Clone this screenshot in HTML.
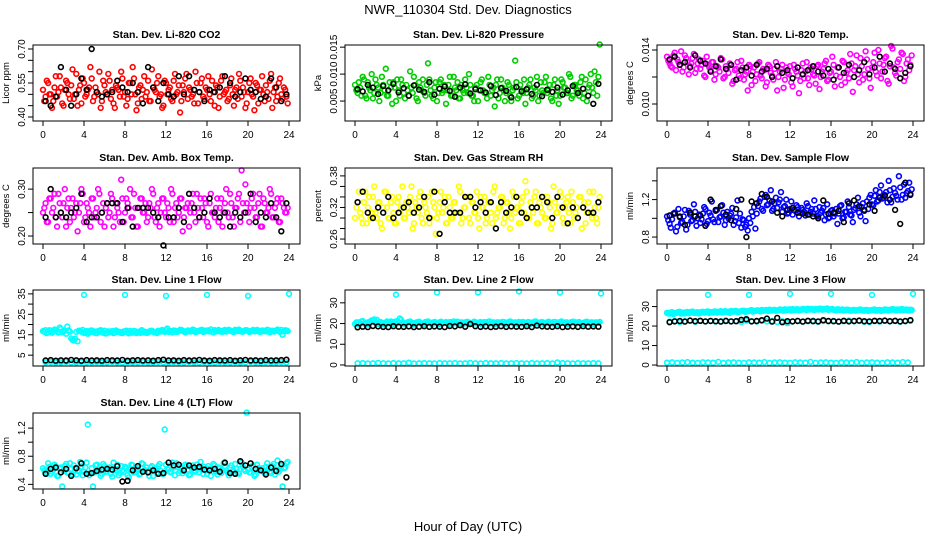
<!DOCTYPE html>
<html><head><meta charset="utf-8"><style>
html,body{margin:0;padding:0;background:#fff;}
svg{display:block;font-family:"Liberation Sans",Arial,sans-serif;}
</style></head><body>
<svg id="chart" width="936" height="540" viewBox="0 0 936 540" xmlns="http://www.w3.org/2000/svg">
<text x="468" y="14" text-anchor="middle" font-size="13">NWR_110304  Std. Dev. Diagnostics</text>
<text x="468" y="531" text-anchor="middle" font-size="13">Hour of Day (UTC)</text>
</svg>
<script>
const xTicks=[0,4,8,12,16,20,24];
const co2=[0.47,0.56,0.50,0.44,0.53,0.49,0.58,0.46,0.52,0.55,0.48,0.61,0.50,0.45,0.54,0.57,0.49,0.52,0.62,0.47,0.53,0.50,0.44,0.56,0.51,0.59,0.48,0.46,0.54,0.52,0.60,0.49,0.45,0.55,0.50,0.57,0.43,0.53,0.48,0.58,0.51,0.47,0.61,0.52,0.55,0.49,0.44,0.56,0.50,0.53,0.47,0.59,0.51,0.42,0.54,0.57,0.48,0.52,0.50,0.60,0.46,0.55,0.49,0.53,0.58,0.47,0.51,0.54,0.44,0.56,0.50,0.52,0.48,0.57,0.45,0.53,0.59,0.49,0.51,0.46,0.55,0.50,0.43,0.54,0.52,0.58,0.47,0.51,0.56,0.44,0.53,0.49,0.57,0.48,0.52,0.46];
const co2B=[0.52,0.49,0.55,0.50,0.47,0.58,0.51,0.53,0.45,0.56,0.50,0.54,0.48,0.59,0.52,0.46,0.55,0.50,0.53,0.57,0.49,0.51,0.60,0.47,0.54,0.50,0.56,0.52,0.44,0.53,0.49,0.57,0.51,0.48,0.55,0.62,0.50,0.46,0.54,0.52,0.49,0.56,0.47,0.53,0.51,0.58,0.50,0.45,0.55,0.52,0.48,0.56,0.50,0.54,0.47,0.51,0.59,0.53,0.49,0.46,0.55,0.51,0.57,0.48,0.52,0.50,0.56,0.45,0.53,0.49,0.58,0.51,0.47,0.54,0.50,0.52,0.48,0.56,0.53,0.44,0.51,0.57,0.49,0.55,0.46,0.52,0.50,0.54,0.48,0.59,0.51,0.47,0.55,0.50,0.53,0.49];
const co2Black=[0.47,0.45,0.49,0.62,0.52,0.45,0.50,0.57,0.52,0.70,0.51,0.49,0.50,0.51,0.56,0.53,0.51,0.55,0.51,0.46,0.62,0.53,0.47,0.55,0.50,0.49,0.58,0.50,0.58,0.52,0.51,0.47,0.52,0.51,0.53,0.58,0.55,0.49,0.51,0.57,0.52,0.51,0.48,0.49,0.57,0.53,0.47,0.50];
const pres=[.0070,.0085,.0060,.0090,.0055,.0075,.0100,.0065,.0080,.0050,.0095,.0070,.0060,.0085,.0045,.0075,.0090,.0060,.0080,.0055,.0070,.0105,.0065,.0080,.0050,.0075,.0090,.0060,.0120,.0070,.0055,.0085,.0065,.0090,.0070,.0045,.0080,.0060,.0095,.0070,.0055,.0080,.0065,.0075,.0100,.0060,.0050,.0080,.0070,.0090,.0065,.0055,.0080,.0070,.0040,.0090,.0065,.0075,.0050,.0085,.0060,.0070,.0125,.0055,.0080,.0065,.0045,.0075,.0090,.0060,.0070,.0050,.0085,.0065,.0095,.0070,.0055,.0080,.0060,.0045,.0090,.0075,.0065,.0100,.0055,.0080,.0070,.0060,.0095,.0065,.0050,.0080,.0075,.0105,.0060,.0155];
const presB=[.0080,.0065,.0075,.0095,.0060,.0085,.0070,.0055,.0090,.0075,.0065,.0080,.0110,.0060,.0075,.0085,.0050,.0070,.0090,.0065,.0080,.0060,.0075,.0095,.0055,.0085,.0070,.0065,.0080,.0090,.0060,.0075,.0050,.0085,.0065,.0080,.0070,.0095,.0060,.0075,.0085,.0055,.0070,.0090,.0065,.0080,.0060,.0075,.0050,.0085,.0070,.0065,.0095,.0060,.0075,.0080,.0055,.0090,.0070,.0065,.0080,.0050,.0075,.0085,.0060,.0070,.0090,.0065,.0080,.0055,.0075,.0095,.0060,.0070,.0085,.0065,.0080,.0050,.0090,.0070,.0060,.0085,.0075,.0065,.0095,.0060,.0080,.0070,.0085,.0055,.0090,.0075,.0100,.0065,.0085,.0095];
const presBlack=[.0072,.0068,.0080,.0075,.0063,.0078,.0070,.0082,.0066,.0074,.0060,.0079,.0071,.0067,.0085,.0062,.0073,.0077,.0069,.0058,.0075,.0081,.0064,.0072,.0070,.0066,.0078,.0061,.0074,.0069,.0057,.0076,.0068,.0072,.0063,.0080,.0059,.0071,.0067,.0075,.0062,.0070,.0078,.0065,.0073,.0060,.0045,.0082];
const temp=[.0132,.0128,.0136,.0125,.0131,.0139,.0127,.0134,.0122,.0130,.0137,.0126,.0133,.0129,.0121,.0135,.0127,.0131,.0118,.0128,.0124,.0133,.0120,.0126,.0130,.0115,.0125,.0131,.0119,.0127,.0122,.0110,.0128,.0124,.0117,.0130,.0121,.0126,.0113,.0129,.0123,.0118,.0131,.0120,.0126,.0112,.0127,.0122,.0116,.0129,.0124,.0108,.0125,.0119,.0131,.0114,.0126,.0121,.0128,.0111,.0124,.0130,.0117,.0123,.0135,.0113,.0127,.0120,.0132,.0116,.0125,.0137,.0109,.0128,.0122,.0134,.0118,.0139,.0126,.0112,.0131,.0124,.0140,.0119,.0129,.0135,.0115,.0143,.0127,.0121,.0133,.0138,.0117,.0130,.0125,.0136];
const tempB=[.0135,.0130,.0127,.0138,.0133,.0129,.0124,.0136,.0131,.0128,.0134,.0123,.0130,.0126,.0132,.0120,.0129,.0125,.0131,.0122,.0127,.0134,.0119,.0128,.0123,.0129,.0117,.0126,.0121,.0132,.0118,.0124,.0129,.0114,.0127,.0122,.0131,.0119,.0125,.0116,.0128,.0121,.0126,.0110,.0124,.0129,.0118,.0123,.0128,.0113,.0126,.0121,.0117,.0130,.0124,.0119,.0127,.0122,.0115,.0129,.0120,.0126,.0132,.0118,.0124,.0129,.0121,.0127,.0114,.0131,.0123,.0119,.0130,.0125,.0136,.0116,.0128,.0122,.0133,.0119,.0127,.0138,.0121,.0130,.0124,.0134,.0117,.0128,.0141,.0123,.0131,.0126,.0137,.0120,.0133,.0129];
const tempBlack=[.0133,.0135,.0129,.0131,.0127,.0136,.0132,.0130,.0124,.0128,.0133,.0126,.0129,.0118,.0125,.0127,.0121,.0129,.0124,.0126,.0120,.0128,.0123,.0125,.0119,.0127,.0122,.0125,.0128,.0124,.0121,.0126,.0118,.0127,.0123,.0129,.0120,.0125,.0131,.0122,.0127,.0135,.0124,.0130,.0126,.0119,.0123,.0128];
const amb=[.26,.23,.28,.25,.29,.22,.27,.24,.30,.26,.23,.28,.25,.21,.27,.29,.24,.26,.22,.28,.25,.30,.23,.27,.26,.24,.29,.22,.27,.25,.32,.23,.28,.26,.24,.29,.22,.26,.28,.25,.23,.27,.30,.24,.26,.22,.28,.25,.27,.23,.29,.26,.24,.28,.21,.26,.27,.25,.29,.23,.26,.28,.24,.27,.22,.29,.25,.26,.23,.28,.25,.30,.24,.27,.22,.26,.29,.34,.25,.27,.23,.28,.26,.24,.29,.22,.27,.25,.30,.24,.26,.28,.23,.27,.25,.26];
const ambB=[.25,.27,.23,.28,.26,.24,.29,.25,.27,.22,.28,.26,.24,.27,.25,.30,.23,.27,.25,.28,.24,.26,.29,.25,.22,.27,.25,.28,.24,.26,.23,.28,.25,.27,.30,.24,.26,.22,.28,.25,.27,.24,.26,.29,.23,.27,.25,.28,.24,.26,.30,.23,.27,.25,.28,.24,.26,.22,.27,.25,.29,.24,.26,.28,.23,.27,.25,.24,.28,.26,.22,.27,.25,.29,.24,.26,.28,.23,.27,.31,.25,.26,.29,.24,.27,.22,.28,.25,.26,.29,.24,.27,.23,.28,.26,.25];
const ambBlack=[.24,.30,.24,.25,.24,.25,.26,.29,.23,.24,.24,.25,.27,.27,.27,.23,.26,.22,.26,.26,.26,.25,.24,.18,.24,.24,.26,.23,.29,.26,.24,.25,.28,.25,.24,.25,.22,.25,.24,.25,.29,.23,.25,.24,.27,.24,.21,.27];
const rh=[.32,.35,.30,.33,.29,.34,.31,.36,.30,.33,.28,.35,.32,.30,.34,.29,.33,.31,.36,.30,.32,.34,.28,.33,.31,.35,.29,.32,.34,.30,.33,.27,.31,.35,.32,.29,.34,.30,.33,.31,.36,.29,.32,.34,.30,.33,.31,.35,.28,.32,.34,.30,.33,.29,.36,.31,.32,.34,.30,.33,.28,.35,.31,.32,.29,.34,.37,.30,.33,.31,.35,.29,.32,.34,.30,.33,.28,.36,.31,.32,.34,.29,.33,.31,.35,.30,.32,.34,.28,.33,.31,.35,.30,.32,.29,.34];
const rhB=[.30,.33,.31,.29,.35,.32,.30,.34,.31,.33,.29,.32,.35,.30,.33,.31,.29,.34,.32,.30,.33,.31,.36,.29,.32,.34,.30,.33,.31,.29,.35,.32,.30,.33,.31,.34,.29,.32,.30,.33,.31,.35,.30,.32,.34,.29,.33,.31,.30,.34,.32,.29,.33,.31,.35,.30,.32,.34,.29,.33,.31,.30,.34,.32,.29,.33,.31,.35,.30,.32,.34,.29,.33,.31,.30,.34,.32,.29,.33,.31,.35,.30,.32,.34,.29,.33,.31,.30,.34,.32,.29,.33,.31,.35,.30,.32];
const rhBlack=[.33,.35,.31,.30,.32,.31,.34,.30,.31,.32,.33,.31,.32,.34,.30,.35,.27,.33,.31,.31,.31,.34,.34,.32,.33,.31,.33,.28,.33,.31,.32,.34,.31,.30,.32,.32,.34,.33,.30,.34,.32,.29,.32,.30,.32,.31,.31,.33];
const sample=[.98,.90,1.05,.86,1.10,.95,1.02,.88,1.08,.97,1.15,.92,1.04,.99,1.12,.94,1.06,1.18,.96,1.09,1.01,1.14,.93,1.07,1.03,1.11,.97,1.19,1.05,.99,.91,.87,.95,1.02,.89,1.13,1.21,1.08,1.25,1.15,1.30,1.10,1.22,1.17,1.28,1.12,1.20,1.06,1.18,1.09,1.14,1.02,1.11,1.07,1.16,1.04,1.10,1.19,1.03,1.12,1.08,.98,1.15,1.01,1.09,1.05,.94,1.13,1.00,1.07,1.18,1.04,.96,1.11,1.22,1.02,1.16,.97,1.10,1.25,1.14,1.30,1.19,1.35,1.22,1.28,1.40,1.17,1.32,1.24,1.45,1.20,1.36,1.27,1.38,1.31];
const sampleB=[1.02,.94,.99,1.06,.91,1.01,.96,1.09,.93,1.04,.98,1.07,1.00,.95,1.05,1.10,.97,1.03,.99,1.08,.96,1.02,1.06,.98,1.00,1.05,.93,1.01,.95,.90,.98,.93,1.00,1.07,1.12,1.05,1.18,1.10,1.23,1.14,1.19,1.08,1.16,1.11,1.20,1.07,1.13,1.05,1.10,1.04,1.08,1.12,1.06,1.09,1.03,1.13,1.07,1.05,1.10,1.02,1.06,1.11,1.04,1.00,1.08,1.02,1.10,1.05,1.14,1.01,1.07,1.12,1.03,1.09,1.15,1.06,1.12,1.08,1.18,1.22,1.15,1.24,1.18,1.28,1.21,1.25,1.17,1.30,1.23,1.27,1.20,1.33,1.25,1.22,1.29,1.26];
const sampleBlack=[1.03,1.05,1.02,.93,1.06,1.02,1.03,.92,1.20,1.09,1.13,1.04,.98,1.10,1.20,.80,1.18,1.16,1.26,1.23,1.18,1.06,1.02,1.09,1.11,1.06,1.05,1.04,1.02,1.00,1.19,1.05,1.06,1.08,.96,1.16,1.19,1.13,1.09,1.15,1.08,1.22,1.24,1.20,1.09,.94,1.38,1.25];
const line1=[16.5,15.8,17.2,16.0,17.5,16.8,18.5,16.2,17.0,19.0,16.5,12.5,13.0,11.8,16.9,17.3,16.1,15.5,17.0,16.4,15.9,16.8,17.2,16.0,15.6,16.7,16.2,15.8,17.1,16.4,15.9,16.6,17.0,15.7,16.3,16.9,15.8,16.5,17.2,16.1,15.9,16.6,17.0,16.2,15.8,16.7,17.3,16.4,18.0,16.8,16.1,17.0,16.5,17.4,16.9,16.2,17.1,16.6,17.5,16.3,16.9,17.2,16.4,17.0,16.7,17.6,16.2,16.9,17.3,16.5,17.1,16.6,17.4,16.8,16.3,17.0,17.5,16.6,16.9,17.2,16.4,17.0,16.7,17.3,16.5,17.1,16.8,17.4,16.2,17.0,16.9,17.5,16.4,15.0,17.2,16.8];
const line1B=[16.8,17.2,16.3,17.0,16.6,17.4,16.1,17.8,16.7,15.5,17.1,13.2,12.2,16.4,17.0,16.5,15.9,16.8,16.2,17.1,16.6,15.8,16.9,16.3,17.0,15.9,16.5,16.8,16.1,16.7,16.3,15.8,16.6,16.2,16.9,16.0,16.7,16.3,15.9,16.8,16.4,16.1,16.9,16.5,16.2,17.0,16.6,16.9,17.2,16.4,16.8,17.1,16.5,16.9,17.3,16.7,16.4,17.0,16.8,17.2,16.5,16.9,17.4,16.6,17.1,16.8,16.4,17.2,16.7,17.0,16.5,17.3,16.9,17.1,16.6,17.4,16.8,17.0,16.5,17.2,16.9,16.6,17.3,16.8,17.1,16.5,17.0,16.7,17.2,16.9,16.6,17.1,16.8,17.3,16.7,17.0];
const line1Low=[1.5,1.6,1.4,1.5,1.7,1.5,1.4,1.6,1.5,1.5,1.6,1.4,1.5,1.7,1.5,1.4,1.6,1.5,1.5,1.6,1.4,1.5,1.6,1.5,1.4,1.6,1.5,1.5,1.7,1.4,1.5,1.6,1.5,1.4,1.6,1.5,1.5,1.6,1.4,1.5,1.7,1.5,1.4,1.6,1.5,1.5,1.6,1.5];
const line1Black=[2.4,2.6,2.3,2.5,2.4,2.7,2.5,2.3,2.6,2.4,2.5,2.3,2.6,2.5,2.4,2.7,2.3,2.5,2.6,2.4,2.5,2.3,2.6,2.8,2.4,2.5,2.3,2.6,2.4,2.5,2.7,2.4,2.3,2.6,2.5,2.4,2.6,2.3,2.5,2.7,2.4,2.5,2.3,2.6,2.4,2.5,2.6,2.8];
const outHours=[4,8,12,16,20,24];
const line1Out=[34.5,34.5,34,34.5,34,35];
const line2=[20.5,19.5,21,20,19.8,20.8,21.5,22,21.8,20.5,19.6,20.2,21,20.4,19.7,20.9,21.2,22.5,20.1,19.8,20.6,21,20.3,19.9,20.7,20.2,19.6,20.8,21,20.4,20,20.6,19.8,20.9,20.3,20.7,19.7,20.5,21,20.2,19.9,20.6,20.4,20.8,19.8,20.3,20.9,20.1,20.5,19.7,20.7,20.2,21,20.4,19.9,20.6,20.3,20.8,19.8,20.5,21,20.2,20.6,19.9,20.4,20.8,20.1,20.7,19.8,20.5,21,20.3,20.6,19.9,20.4,20.9,20.2,20.7,19.8,20.5,21,20.3,20.6,20,20.4,20.8,20.1,20.7,19.9,20.5,20.9,20.2,20.6,20,20.4,20.8];
const line2B=[19.8,20.6,20.2,21.2,20.4,19.6,20.8,21.4,20.3,19.9,20.7,20.1,19.5,20.6,21,20.2,19.8,20.5,21.8,20.4,19.9,20.7,20.3,19.6,20.5,20.9,20.1,19.8,20.6,20.3,19.7,20.8,20.2,19.9,20.6,20.4,20,20.7,19.8,20.3,20.9,20.1,19.7,20.5,20.8,20.2,19.9,20.6,20.3,20.7,19.8,20.4,20.9,20.1,20.6,19.9,20.5,20.2,20.8,20,20.4,20.7,19.9,20.3,20.8,20.1,20.5,19.7,20.6,20.2,20.9,20,20.4,20.7,19.8,20.3,20.6,20.1,20.8,19.9,20.4,20.7,20.2,19.8,20.5,20.9,20.1,20.6,20.3,19.9,20.7,20.2,20.5,19.8,20.6,20.3];
const line2Low=[.8,.9,.7,.8,1.0,.8,.7,.9,.8,.8,1.1,.7,.8,.9,.8,.7,.9,.8,.8,.9,.7,.8,1.0,.8,.7,.9,.8,.8,.9,.7,.8,.9,.8,.7,.9,.8,.8,.9,.7,1.2,.9,.8,.7,.9,.8,.8,.9,.8];
const line2Black=[18.2,18.5,18.3,18.8,18.6,18.4,18.3,18.7,18.5,18.4,18.6,18.3,18.5,18.7,18.4,18.6,18.5,18.3,18.8,18.6,19.2,18.5,19.8,18.7,18.4,18.6,18.3,18.5,18.7,18.4,18.6,18.5,18.4,18.7,18.3,19.0,18.6,18.5,18.4,18.7,18.3,18.5,18.6,18.4,18.7,18.5,18.6,18.5];
const line2Out=[34,35,35,35.5,35,34.5];
const line3=[26.5,27,26.2,26.8,27.2,26.4,26.9,27.1,26.6,27.3,26.8,27,26.5,27.2,26.9,27.4,26.7,27.1,27.5,26.9,27.3,27,27.6,27.2,26.8,27.4,27.7,27.1,27.5,27.9,27.3,27.6,28,27.4,27.8,28.1,27.5,27.9,28.2,27.7,28,28.3,27.8,28.1,28.4,27.9,28.2,28.5,28,28.3,28.6,28.1,28.4,28.7,28.2,28.5,28.8,28.3,28.6,28.9,28.4,28.7,29,28.5,28.8,28.3,28.6,28.2,28.5,28.1,28.4,28,28.3,27.9,28.2,28.5,28,28.3,27.8,28.1,28.4,27.9,28.2,27.8,28.1,28.4,28,28.3,28.6,28.1,28.4,28.7,28.2,28.5,28,28.3];
const line3B=[26.8,26.4,27.1,26.6,26.9,27.3,26.7,26.5,27.2,26.9,27.4,26.7,27.1,26.8,27.3,27,27.5,27.1,26.9,27.4,27.2,27.6,27.1,27.5,27.3,27.8,27.4,27.7,27.2,27.6,27.9,27.5,27.8,28.2,27.7,28,27.8,28.3,27.9,28.2,28.4,28,28.3,28.1,28.5,28.2,28.6,28.3,28.5,28.7,28.2,28.6,28.4,28.8,28.5,28.9,28.6,28.4,28.8,28.5,28.9,28.6,28.7,28.3,28.6,28.4,28.1,28.5,28.3,28,28.4,28.2,27.9,28.3,28.1,28.4,28.2,27.9,28.3,28,28.2,28.5,28,28.3,28.1,28.5,28.2,28.4,28.7,28.3,28.5,28.2,28.6,28.3,28.1,28.4];
const line3Mid=[22.3,22.6,22.1,22.5,22.8,22.2,22.6,22.4,22.7,22.3,22.5,22.9,22.4,22.6,22.2,22.8,22.5,22.3,22.7,22.4,22.6,22.1,22.5,21.5,22.4,22.7,22.3,22.5,22.8,22.2,22.6,22.4,22.7,22.3,22.5,22.8,22.4,22.6,22.2,22.1,22.5,22.3,22.7,22.4,22.6,22.2,22.5,22.7];
const line3Low=[1.2,1.4,1.1,1.3,1.5,1.2,1.1,1.4,1.3,1.2,1.6,1.1,1.3,1.4,1.2,1.1,1.4,1.3,1.2,1.5,1.1,1.3,1.4,1.2,1.1,1.4,1.3,1.2,1.6,1.1,1.3,1.4,1.2,1.1,1.4,1.3,1.2,1.5,1.1,1.3,1.4,1.2,1.1,1.4,1.3,1.2,1.5,1.3];
const line3Black=[22,22.4,22.6,22.3,22.8,22.5,22.7,22.4,22.6,22.5,22.3,22.6,22.4,22.5,23.2,23.5,22.4,22.6,23,23.8,22.3,24.2,22,22.5,22.4,22.6,22.3,22.7,22.5,22.4,23,22.6,22.5,22.3,22.7,22.4,22.6,22.8,22.5,22.4,22.7,22.6,22.8,22.5,22.7,22.4,22.6,23];
const line3Out=[36,36,36.5,36.5,36,36.5];
const line4=[.60,.55,.65,.58,.68,.52,.62,.37,.66,.57,.70,.54,.63,.59,.72,.53,.64,1.25,.56,.37,.67,.60,.52,.69,.58,.62,.55,.71,.60,.53,.66,.58,.63,.50,.68,.57,.61,.54,.70,.59,.64,.52,.66,.60,.57,.69,.55,1.18,.62,.58,.71,.53,.65,.59,.56,.68,.61,.54,.67,.58,.63,.72,.55,.60,.66,.52,.69,.58,.64,.56,.70,.60,.53,.67,.59,.62,.55,.71,.61,1.42,.57,.65,.52,.68,.60,.63,.56,.70,.58,.66,.54,.74,.61,.37,.64,.72];
const line4B=[.63,.58,.70,.55,.61,.66,.52,.64,.59,.69,.56,.62,.67,.54,.60,.65,.58,.71,.53,.63,.57,.68,.61,.55,.66,.59,.64,.51,.62,.68,.56,.60,.65,.53,.61,.67,.58,.63,.55,.69,.60,.57,.64,.52,.62,.66,.59,.55,.68,.61,.57,.64,.70,.56,.62,.59,.66,.53,.63,.60,.68,.57,.61,.65,.55,.62,.59,.67,.54,.63,.60,.66,.57,.64,.58,.69,.56,.62,.65,.59,.61,.57,.67,.54,.63,.60,.58,.65,.62,.56,.69,.61,.58,.66,.63,.70];
const line4Black=[.55,.62,.64,.57,.62,.52,.63,.70,.55,.56,.59,.61,.62,.61,.66,.44,.45,.60,.66,.58,.57,.60,.55,.56,.71,.67,.68,.60,.67,.64,.65,.61,.60,.62,.58,.71,.56,.55,.73,.67,.70,.62,.60,.54,.64,.59,.69,.50];
const co2Ticks=[.40,.45,.50,.55,.60,.65,.70], co2Labels=["0.40","","","0.55","","","0.70"];
const presTicks=[.005,.010,.015], presLabels=["0.005","0.010","0.015"];
const tempTicks=[.010,.012,.014], tempLabels=["0.010","","0.014"];
const ambTicks=[.20,.25,.30], ambLabels=["0.20","","0.30"];
const rhTicks=[.26,.28,.30,.32,.34,.36,.38], rhLabels=["0.26","","","0.32","","","0.38"];
const sampleTicks=[.8,1.0,1.2,1.4], sampleLabels=["0.8","","1.2",""];
const l1Ticks=[5,10,15,20,25,30,35], l1Labels=["5","","15","","25","","35"];
const l23Ticks=[0,10,20,30], l23Labels=["0","10","20","30"];
const l4Ticks=[.4,.6,.8,1.0,1.2], l4Labels=["0.4","","0.8","","1.2"];

const CYAN="#00ffff";
const panels=[
 {name:"co2",title:"Stan. Dev. Li-820 CO2",ylab:"Licor ppm",col:0,row:0,ymin:.3824,ymax:.7176,ticks:co2Ticks,labels:co2Labels,series:[[co2,"#ff0000"],[co2B,"#ff0000"],[co2Black,"#000"]]},
 {name:"pressure",title:"Stan. Dev. Li-820 Pressure",ylab:"kPa",col:1,row:0,ymin:.0013,ymax:.0154,ticks:presTicks,labels:presLabels,series:[[pres,"#00cc00"],[presB,"#00cc00"],[presBlack,"#000"]]},
 {name:"li820-temp",title:"Stan. Dev. Li-820 Temp.",ylab:"degrees C",col:2,row:0,ymin:.00874,ymax:.01437,ticks:tempTicks,labels:tempLabels,series:[[temp,"#ff00ff"],[tempB,"#ff00ff"],[tempBlack,"#000"]]},
 {name:"amb-box-temp",title:"Stan. Dev. Amb. Box Temp.",ylab:"degrees C",col:0,row:1,ymin:.183,ymax:.345,ticks:ambTicks,labels:ambLabels,series:[[amb,"#ff00ff"],[ambB,"#ff00ff"],[ambBlack,"#000"]]},
 {name:"gas-stream-rh",title:"Stan. Dev. Gas Stream RH",ylab:"percent",col:1,row:1,ymin:.2506,ymax:.395,ticks:rhTicks,labels:rhLabels,series:[[rh,"#ffff00"],[rhB,"#ffff00"],[rhBlack,"#000"]]},
 {name:"sample-flow",title:"Stan. Dev. Sample Flow",ylab:"ml/min",col:2,row:1,ymin:.726,ymax:1.537,ticks:sampleTicks,labels:sampleLabels,series:[[sample,"#0000ff"],[sampleB,"#0000ff"],[sampleBlack,"#000"]]},
 {name:"line1-flow",title:"Stan. Dev. Line 1 Flow",ylab:"ml/min",col:0,row:2,ymin:-0.3,ymax:36.9,ticks:l1Ticks,labels:l1Labels,series:[[line1,CYAN],[line1B,CYAN],[line1Low,CYAN],[line1Black,"#000"]],out:line1Out},
 {name:"line2-flow",title:"Stan. Dev. Line 2 Flow",ylab:"ml/min",col:1,row:2,ymin:-0.5,ymax:36.2,ticks:l23Ticks,labels:l23Labels,series:[[line2,CYAN],[line2B,CYAN],[line2Low,CYAN],[line2Black,"#000"]],out:line2Out},
 {name:"line3-flow",title:"Stan. Dev. Line 3 Flow",ylab:"ml/min",col:2,row:2,ymin:-0.5,ymax:38.5,ticks:l23Ticks,labels:l23Labels,series:[[line3,CYAN],[line3B,CYAN],[line3Mid,CYAN],[line3Low,CYAN],[line3Black,"#000"]],out:line3Out},
 {name:"line4-flow",title:"Stan. Dev. Line 4 (LT) Flow",ylab:"ml/min",col:0,row:3,ymin:.334,ymax:1.415,ticks:l4Ticks,labels:l4Labels,series:[[line4,CYAN],[line4B,CYAN],[line4Black,"#000"]]}
];
const svg=document.getElementById('chart');
const NS="http://www.w3.org/2000/svg";
function mk(tag,attrs,parent){const e=document.createElementNS(NS,tag);for(const k in attrs)e.setAttribute(k,attrs[k]);parent.appendChild(e);return e;}
const colLeft=[33,345,657], rowTop=[45,168,290,413], W=267, H=76;
panels.forEach(p=>{
  const L=colLeft[p.col], T=rowTop[p.row], B=T+H;
  const g=mk('g',{},svg);
  
  
  const xs=h=>L+10+h*(W-21)/24;
  const ys=v=>B-(v-p.ymin)/(p.ymax-p.ymin)*H;
  const t=mk('text',{x:L+W/2,y:T-7,'text-anchor':'middle','font-size':'10.5','font-weight':'bold'},g);
  t.textContent=p.title;
  
  
  const yl=mk('text',{x:0,y:0,'text-anchor':'middle','font-size':'9.5',transform:`translate(${L-24},${T+H/2}) rotate(-90)`},g);
  yl.textContent=p.ylab;
  
  
  const pts=mk('g',{fill:'none','stroke-width':'1.6'},g);
  
  
  p.series.forEach(([vals,color],si)=>{
    const n=vals.length;
    const off=(si%2===1&&color!=="#000")?0.0:0.5;
    vals.forEach((v,i)=>{
      const c=mk('circle',{cx:xs((i+off)*24/n).toFixed(1),cy:ys(v).toFixed(1),r:2.4,stroke:color},pts);
      
      
    });
  });
  if(p.out){p.out.forEach((v,i)=>{
    const c=mk('circle',{cx:xs(outHours[i]).toFixed(1),cy:ys(v).toFixed(1),r:2.4,stroke:CYAN},pts);
    
    
  });}
  const box=mk('rect',{x:L,y:T,width:W,height:H,fill:'none',stroke:'#000','stroke-width':'1'},g);
  
  
  const xa=mk('g',{},g);
  
  
  xTicks.forEach(h=>{
    const x=xs(h);
    mk('line',{x1:x,x2:x,y1:B,y2:B+5,stroke:'#000'},xa);
    const tl=mk('text',{x:x,y:B+17,'text-anchor':'middle','font-size':'10'},xa);
    tl.textContent=String(h);
  });
  const ya=mk('g',{},g);
  
  
  p.ticks.forEach((v,i)=>{
    const y=ys(v);
    mk('line',{x1:L-5,x2:L,y1:y,y2:y,stroke:'#000'},ya);
    if(p.labels[i]){
      const tl=mk('text',{x:0,y:0,'text-anchor':'middle','font-size':'10',transform:`translate(${L-8},${y}) rotate(-90)`},ya);
      tl.textContent=p.labels[i];
    }
  });
});
</script>
</body></html>
